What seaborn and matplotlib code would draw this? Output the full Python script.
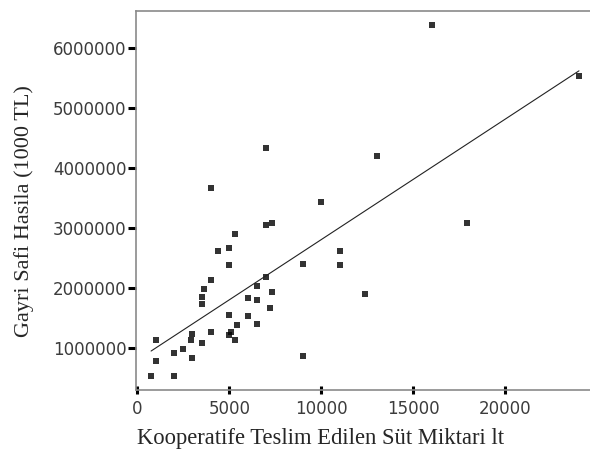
import matplotlib
matplotlib.use("Agg")
from matplotlib import pyplot as plt
import pandas as pd
import seaborn as sns

# milk delivered to the cooperative (lt) vs gross revenue (1000 TL)
sut_miktari = [16000, 24000, 7000, 13000, 4000, 10000, 7000, 7300, 17900, 5300,
               5000, 4400, 11000, 5000, 9000, 11000, 4000, 7000, 3600, 3500,
               3500, 6500, 7300, 6000, 6500, 12400, 7200, 5000, 6000, 6500,
               5400, 5100, 5000, 5300, 4000, 3000, 2900, 3500, 1000, 2500,
               2000, 3000, 1000, 9000, 750, 2000]
gayri_safi_hasila = [6370000, 5520000, 4330000, 4190000, 3660000, 3430000, 3050000, 3070000, 3070000, 2890000,
                     2660000, 2610000, 2610000, 2370000, 2400000, 2380000, 2120000, 2180000, 1980000, 1850000,
                     1720000, 2020000, 1920000, 1820000, 1800000, 1900000, 1660000, 1540000, 1520000, 1400000,
                     1380000, 1260000, 1210000, 1120000, 1260000, 1220000, 1130000, 1080000, 1120000, 980000,
                     910000, 830000, 770000, 860000, 520000, 530000]
x_ticks = [0, 5000, 10000, 15000, 20000]
y_ticks = [1000000, 2000000, 3000000, 4000000, 5000000, 6000000]

df = pd.DataFrame({'sut': sut_miktari, 'hasila': gayri_safi_hasila})

sns.set_style("white")
plt.rcParams['font.family'] = ['DejaVu Sans']

fig = plt.figure(figsize=(5.9, 4.5), dpi=100)
ax = fig.add_axes([136/590, 60/450, 454/590, 379/450])

sns.regplot(data=df, x='sut', y='hasila', ax=ax, ci=None, marker='s',
            scatter_kws={'s': 13, 'color': 'black', 'linewidths': 0},
            line_kws={'color': '#222222', 'linewidth': 0.8})

ax.set_xlim(-70, 24600)
ax.set_ylim(295000, 6610000)
ax.set_xticks(x_ticks)
ax.set_yticks(y_ticks)
ax.ticklabel_format(style='plain', useOffset=False)

for side in ['left', 'top', 'bottom']:
    ax.spines[side].set_color('#8a8a8a')
    ax.spines[side].set_linewidth(1.2)
ax.spines['right'].set_visible(False)

ax.tick_params(axis='x', bottom=True, direction='inout', length=6, width=2.2, color='black',
               labelsize=12, labelcolor='#3c3c3c', pad=4)
ax.tick_params(axis='y', left=True, direction='out', length=6, width=2.2, color='black',
               labelsize=12, labelcolor='#3c3c3c', pad=1)

ax.set_xlabel('Kooperatife Teslim Edilen Süt Miktari lt', family='Liberation Serif',
              fontsize=16.3, va='center')
ax.xaxis.set_label_coords(0.4075, -0.127)
ax.set_ylabel('Gayri Safi Hasila (1000 TL)', family='Liberation Serif',
              fontsize=16, va='center')
ax.yaxis.set_label_coords(-0.247, 0.472)

fig.savefig('out.png', dpi=100)
